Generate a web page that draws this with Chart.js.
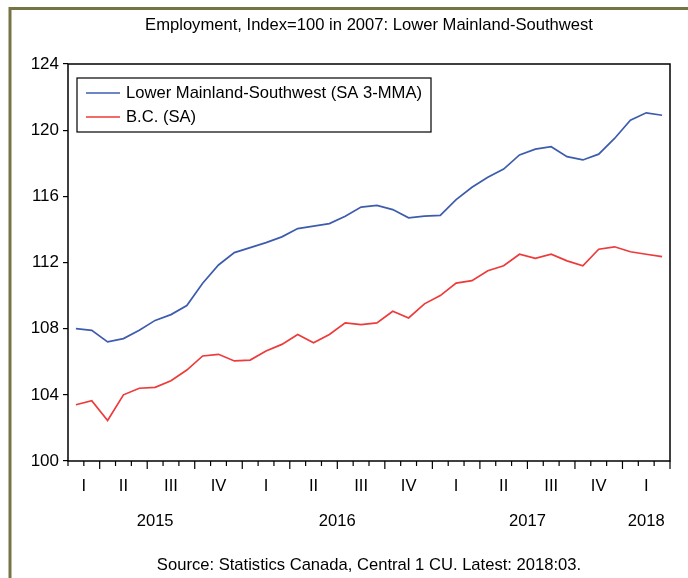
<!DOCTYPE html>
<html>
<head>
<meta charset="utf-8">
<script src="https://cdn.jsdelivr.net/npm/chart.js@4.4.1/dist/chart.umd.min.js"></script>
<style>
html,body{margin:0;padding:0;background:#fff;}
#wrap{width:688px;height:578px;position:relative;}
</style>
</head>
<body>
<div id="wrap"><canvas id="c" width="688" height="578"></canvas></div>
<script>
// Monthly, Feb 2015 .. Mar 2018
const months = ["2015-02","2015-03","2015-04","2015-05","2015-06","2015-07","2015-08","2015-09","2015-10","2015-11","2015-12",
"2016-01","2016-02","2016-03","2016-04","2016-05","2016-06","2016-07","2016-08","2016-09","2016-10","2016-11","2016-12",
"2017-01","2017-02","2017-03","2017-04","2017-05","2017-06","2017-07","2017-08","2017-09","2017-10","2017-11","2017-12",
"2018-01","2018-02","2018-03"];
const lowerMainland = [108.0,107.9,107.2,107.4,107.9,108.5,108.85,109.4,110.75,111.85,112.6,112.9,113.2,113.55,114.05,114.2,114.35,114.8,115.35,115.45,115.2,114.7,114.8,114.85,115.8,116.55,117.15,117.65,118.5,118.85,119.0,118.4,118.2,118.55,119.5,120.6,121.05,120.9];
const bc = [103.4,103.65,102.45,104.0,104.4,104.45,104.85,105.5,106.35,106.45,106.05,106.1,106.65,107.05,107.65,107.15,107.65,108.35,108.25,108.35,109.05,108.65,109.5,110.0,110.75,110.9,111.5,111.8,112.5,112.25,112.5,112.1,111.8,112.8,112.95,112.65,112.5,112.35];
const seriesNames = ["Lower Mainland-Southwest (SA 3-MMA)","B.C. (SA)"];
const quarterNames = ["I","II","III","IV"];
const yTicks = [100,104,108,112,116,120,124];
const titleText = "Employment, Index=100 in 2007: Lower Mainland-Southwest";
const sourceText = "Source: Statistics Canada, Central 1 CU. Latest: 2018:03.";

const FONT = "'Liberation Sans', Arial, sans-serif";
const FS = 16.6;

const deco = {
  id:'deco',
  afterDraw(chart){
    const ctx = chart.ctx, a = chart.chartArea, xs = chart.scales.x;
    ctx.save();
    // olive outer border (left & top)
    ctx.strokeStyle = '#767445';
    ctx.lineWidth = 3;
    ctx.beginPath();
    ctx.moveTo(10, 578); ctx.lineTo(10, 8.5); ctx.lineTo(688, 8.5);
    ctx.stroke();
    // plot frame
    ctx.strokeStyle = '#000';
    ctx.lineWidth = 1.5;
    ctx.strokeRect(a.left, a.top, a.right - a.left, a.bottom - a.top);
    // x ticks at month boundaries
    const n = months.length;
    const step = (xs.getPixelForValue(1) - xs.getPixelForValue(0));
    ctx.lineWidth = 1.2;
    for (let i = 0; i <= n; i++) {
      const x = (i < n ? xs.getPixelForValue(i) : xs.getPixelForValue(n-1) + step) - step/2;
      let m;
      if (i < n) m = parseInt(months[i].slice(5)); else m = 4;
      const long = (m - 1) % 3 === 0;
      ctx.beginPath();
      ctx.moveTo(x, a.bottom);
      ctx.lineTo(x, a.bottom + (long ? 8 : 5));
      ctx.stroke();
    }
    // quarter and year labels
    ctx.fillStyle = '#000';
    ctx.font = FS + 'px ' + FONT;
    ctx.textAlign = 'center';
    ctx.textBaseline = 'middle';
    const groups = (keyFn) => {
      const g = [];
      months.forEach((mm, i) => {
        const k = keyFn(mm);
        if (!g.length || g[g.length-1].k !== k) g.push({k, first:i, last:i});
        else g[g.length-1].last = i;
      });
      return g;
    };
    groups(mm => mm.slice(0,4) + 'Q' + Math.floor((parseInt(mm.slice(5))-1)/3)).forEach(g => {
      const x0 = xs.getPixelForValue(g.first) - step/2, x1 = xs.getPixelForValue(g.last) + step/2;
      const q = parseInt(g.k.slice(5));
      ctx.fillText(quarterNames[q], (x0 + x1)/2, a.bottom + 25);
    });
    groups(mm => mm.slice(0,4)).forEach(g => {
      const x0 = xs.getPixelForValue(g.first) - step/2, x1 = xs.getPixelForValue(g.last) + step/2;
      ctx.fillText(g.k, (x0 + x1)/2, a.bottom + 60);
    });
    // title and source
    const cx = (a.left + a.right)/2;
    ctx.fillText(titleText, cx, 25);
    ctx.fillText(sourceText, cx, 565);
    // legend
    const lx = 77, ly = 78, lw = 354, lh = 54;
    ctx.fillStyle = '#fff';
    ctx.fillRect(lx, ly, lw, lh);
    ctx.lineWidth = 1.2;
    ctx.strokeStyle = '#000';
    ctx.strokeRect(lx, ly, lw, lh);
    chart.data.datasets.forEach((ds, i) => {
      const y = ly + 15 + i*24;
      ctx.strokeStyle = ds.borderColor;
      ctx.lineWidth = 1.5;
      ctx.beginPath(); ctx.moveTo(86, y); ctx.lineTo(120, y); ctx.stroke();
      ctx.fillStyle = '#000';
      ctx.textAlign = 'left';
      ctx.fillText(ds.label, 126, y);
    });
    ctx.restore();
  }
};

new Chart(document.getElementById('c'), {
  type: 'line',
  data: {
    labels: months,
    datasets: [
      {label: seriesNames[0], data: lowerMainland, borderColor: '#3d5cae', borderWidth: 1.7, pointRadius: 0, tension: 0, fill: false},
      {label: seriesNames[1], data: bc, borderColor: '#ee3a3a', borderWidth: 1.7, pointRadius: 0, tension: 0, fill: false}
    ]
  },
  options: {
    responsive: false,
    animation: false,
    layout: {padding: {left: 10, right: 18, top: 64, bottom: 0}},
    plugins: {legend: {display: false}, title: {display: false}, tooltip: {enabled: false}},
    scales: {
      x: {
        type: 'category',
        offset: true,
        grid: {display: false},
        border: {display: false},
        ticks: {display: false},
        afterFit(s){ s.height = 117; }
      },
      y: {
        min: 100, max: 124,
        afterBuildTicks(s){ s.ticks = yTicks.map(v => ({value: v})); },
        grid: {drawOnChartArea: false, tickLength: 5, color: '#000', lineWidth: 1.2},
        border: {display: false},
        ticks: {color: '#000', padding: 4, font: {family: FONT, size: 17}},
        afterFit(s){ s.width = 58; }
      }
    }
  },
  plugins: [deco]
});
</script>
</body>
</html>
